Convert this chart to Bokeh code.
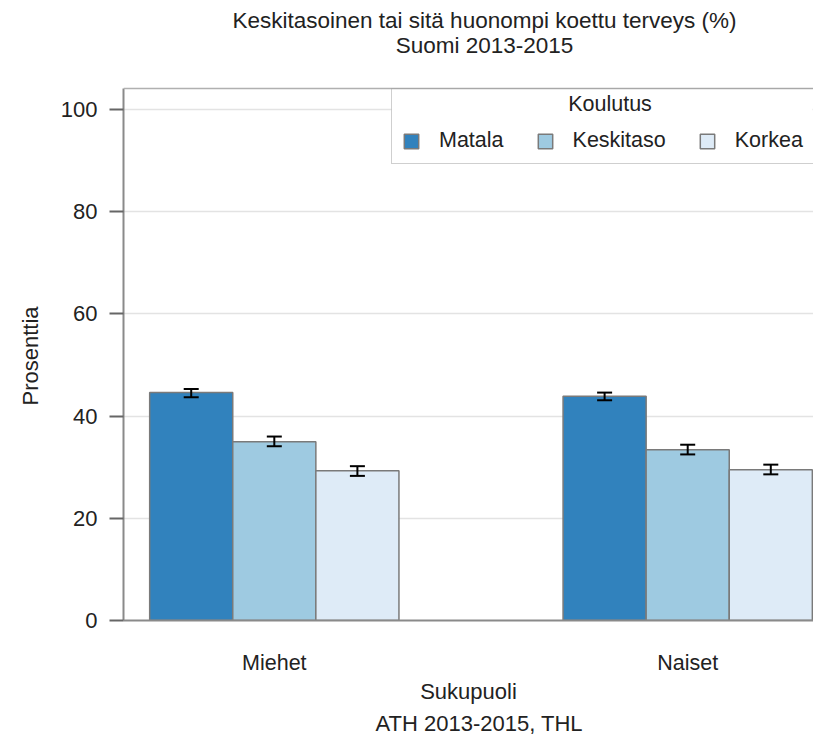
from bokeh.plotting import figure
from bokeh.models import (ColumnDataSource, Range1d, FixedTicker, Whisker, TeeHead,
                          Legend, Span, Title)
from bokeh.core.properties import value
from bokeh.embed import file_html
from bokeh.resources import INLINE

# ---- data ----
groups = ["Miehet", "Naiset"]
levels = ["Matala", "Keskitaso", "Korkea"]
matala = [44.6, 43.9]
matala_lo = [43.7, 43.1]
matala_hi = [45.3, 44.6]
keskitaso = [35.0, 33.4]
keskitaso_lo = [34.1, 32.5]
keskitaso_hi = [36.0, 34.4]
korkea = [29.3, 29.5]
korkea_lo = [28.3, 28.6]
korkea_hi = [30.2, 30.5]
y_ticks = [0, 20, 40, 60, 80, 100]
title_1 = "Keskitasoinen tai sitä huonompi koettu terveys (%)"
title_2 = "Suomi 2013-2015"
legend_title = "Koulutus"
y_label = "Prosenttia"
x_label = "Sukupuoli"
source_text = "ATH 2013-2015, THL"

colors = ["#3182bd", "#9ecae1", "#deebf7"]
FONT = "Liberation Sans"
FS = "22px"
TFS = "22.5px"
LFS = "21.5px"
TXT = "#222222"
BAR_W = 0.201
# view geometry (pixels)
W, H = 813, 738
FL, FR, FT, FB = 123, 813, 0, 620
PLOT_TOP = 88              # visible top edge of the plotting box
LEG_L, LEG_R, LEG_T, LEG_B = 391, 812, 88, 163   # legend box
X_START, X_END = -0.3648, 1.3043
PX_X = (FR - FL) / (X_END - X_START)
PX_Y = 5.11
Y_START = 0
Y_END = (FB - FT) / PX_Y
Y_BOX = (FB - PLOT_TOP) / PX_Y


def dx(px):
    return X_START + (px - FL) / PX_X


def dy(py):
    return Y_START + (FB - py) / PX_Y


p = figure(width=W, height=H, output_backend="svg", toolbar_location=None,
           x_range=Range1d(X_START, X_END), y_range=Range1d(Y_START, Y_END),
           min_border_left=FL, min_border_right=W - FR, min_border_top=FT,
           min_border_bottom=H - FB, title=None)
p.outline_line_color = None
p.background_fill_color = "white"
p.border_fill_color = "white"

# top edge of the plotting box
p.add_layout(Span(location=Y_BOX, dimension="width", line_color="#b0b0b0", line_width=1.5))

series = [(matala, matala_lo, matala_hi), (keskitaso, keskitaso_lo, keskitaso_hi),
          (korkea, korkea_lo, korkea_hi)]
offsets = [-BAR_W, 0.0, BAR_W]
xs_idx = list(range(len(groups)))
legend_items = []
for lvl, (vals, lo, hi), off, col in zip(levels, series, offsets, colors):
    src = ColumnDataSource(dict(x=[i + off for i in xs_idx], top=vals, lo=lo, hi=hi))
    r = p.vbar(x="x", top="top", bottom=0, width=BAR_W, source=src,
               fill_color=col, line_color="#7a7a7a", line_width=1.5)
    legend_items.append((lvl, [r]))
    w = Whisker(base="x", upper="hi", lower="lo", source=src, line_color="black",
                line_width=2, level="overlay",
                upper_head=TeeHead(size=15, line_color="black", line_width=2),
                lower_head=TeeHead(size=15, line_color="black", line_width=2))
    p.add_layout(w)

# white backing of the legend box (hides the grid line behind it)
p.quad(left=[dx(LEG_L)], right=[dx(LEG_R)], top=[dy(LEG_T)], bottom=[dy(LEG_B)],
       fill_color="white", line_color=None)
# legend heading
p.text(x=[dx((LEG_L + LEG_R) / 2 + 8)], y=[dy(103)], text=[legend_title],
       text_align="center", text_baseline="middle", text_font=value(FONT),
       text_font_size=LFS, text_color=TXT)

legend = Legend(items=legend_items, orientation="horizontal",
                location=(LEG_L - FL, FB - LEG_B - 1),
                title=" ", title_text_font_size="21px", title_standoff=5,
                label_text_font=FONT, label_text_font_size=LFS, label_text_color=TXT,
                glyph_width=18, glyph_height=18, label_standoff=19, spacing=32,
                padding=10, margin=0, border_line_color="#a0a0a0", border_line_width=1.5,
                background_fill_alpha=0.0)
p.add_layout(legend)

# chart titles as text drawn through the data scales
p.text(x=[dx(484), dx(484)], y=[dy(20), dy(45)], text=[title_1, title_2],
       text_align="center", text_baseline="middle", text_font=value(FONT),
       text_font_size=TFS, text_color=TXT, level="overlay")

# axes
p.yaxis.bounds = (0, Y_BOX)
p.yaxis.ticker = FixedTicker(ticks=y_ticks)
p.yaxis.major_label_text_font = FONT
p.yaxis.major_label_text_font_size = FS
p.yaxis.major_label_text_color = TXT
p.yaxis.major_label_standoff = 12
p.yaxis.major_tick_out = 14
p.yaxis.major_tick_in = 0
p.yaxis.minor_tick_line_color = None
p.yaxis.axis_line_color = "#8a8a8a"
p.yaxis.axis_line_width = 2
p.yaxis.major_tick_line_color = "#666666"
p.yaxis.major_tick_line_width = 2

p.xaxis.ticker = FixedTicker(ticks=xs_idx)
p.xaxis.major_label_overrides = {i: g for i, g in zip(xs_idx, groups)}
p.xaxis.axis_label = x_label
p.xaxis.axis_label_text_font = FONT
p.xaxis.axis_label_text_font_size = FS
p.xaxis.axis_label_text_font_style = "normal"
p.xaxis.axis_label_text_color = TXT
p.xaxis.axis_label_standoff = 1
p.xaxis.major_label_text_font = FONT
p.xaxis.major_label_text_font_size = LFS
p.xaxis.major_label_text_color = TXT
p.xaxis.major_label_standoff = 30
p.xaxis.major_tick_out = 0
p.xaxis.major_tick_in = 0
p.xaxis.major_tick_line_color = None
p.xaxis.minor_tick_line_color = None
p.xaxis.axis_line_color = "#8a8a8a"
p.xaxis.axis_line_width = 2

p.xgrid.grid_line_color = None
p.ygrid.grid_line_color = "#e3e3e3"
p.ygrid.grid_line_width = 1.5

# y-axis title, centred on the visible box rather than the whole frame
p.add_layout(Title(text=y_label, align="left", offset=215, text_font=FONT,
                   text_font_size=FS, text_font_style="normal", text_color=TXT,
                   standoff=30), "left")
p.add_layout(Title(text=source_text, align="left", offset=252, text_font=FONT,
                   text_font_size=FS, text_font_style="normal", text_color=TXT,
                   standoff=5), "below")

open("out.html", "w").write(file_html(p, INLINE))
